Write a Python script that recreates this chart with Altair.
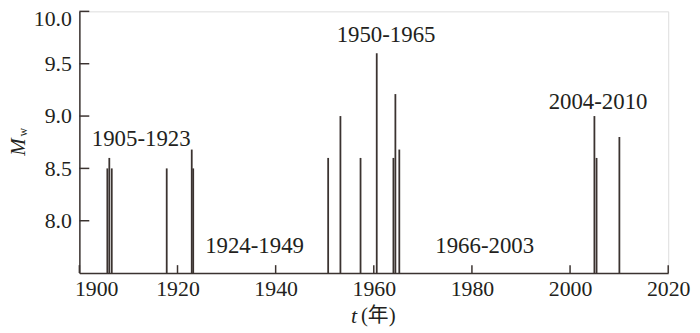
import altair as alt
import pandas as pd

# Earthquake events: year (decimal) and magnitude Mw
years = [1905.7, 1906.1, 1906.6, 1917.8, 1922.9, 1923.2,
         1950.7, 1953.2, 1957.3, 1960.6, 1964.0, 1964.4, 1965.2,
         2004.96, 2005.4, 2010.05]
mags = [8.5, 8.6, 8.5, 8.5, 8.68, 8.5,
        8.6, 9.0, 8.6, 9.6, 8.6, 9.21, 8.68,
        9.0, 8.6, 8.8]

# Period annotations
period_text = ["1905-1923", "1924-1949", "1950-1965", "1966-2003", "2004-2010"]
period_x = [1912.6, 1935.7, 1962.5, 1982.6, 2005.7]
period_y = [8.712, 7.695, 9.706, 7.695, 9.067]

x_ticks = [1900, 1920, 1940, 1960, 1980, 2000, 2020]
y_ticks = [8.0, 8.5, 9.0, 9.5, 10.0]

BASE = 7.5
W, H = 594, 264
INK = "#3b3330"
TXT = "#231f20"
FONT = "'Liberation Serif', 'Times New Roman', serif"

ev = pd.DataFrame({"year": years, "mag": mags, "base": [BASE] * len(years)})
per = pd.DataFrame({"label": period_text, "x": period_x, "y": period_y})
xt = pd.DataFrame({"v": x_ticks})
yt = pd.DataFrame({"v": y_ticks})

xscale = alt.Scale(domain=[1900, 2020], nice=False, zero=False)
yscale = alt.Scale(domain=[BASE, 10.0], nice=False, zero=False)

xaxis = alt.Axis(values=x_ticks, format="d", title=None, ticks=False, grid=False,
                 domainColor=INK, domainWidth=1.5, labelFont=FONT, labelFontSize=22,
                 labelColor=TXT, labelPadding=6, labelFlush=False,
                 labelOffset={"condition": {"test": "datum.value == 1900", "value": 17}, "value": 0})
yaxis = alt.Axis(values=y_ticks, format=".1f", title=None, ticks=False, grid=False,
                 domainColor=INK, domainWidth=1.5, labelFont=FONT, labelFontSize=22,
                 labelColor=TXT, labelPadding=8, labelFlush=False,
                 labelOffset={"condition": {"test": "datum.value == 10", "value": 7}, "value": 0})

bars = alt.Chart(ev).mark_rule(color=INK, strokeWidth=1.8).encode(
    x=alt.X("year:Q", scale=xscale, axis=xaxis),
    y=alt.Y("base:Q", scale=yscale, axis=yaxis),
    y2="mag:Q",
)

xtick_marks = alt.Chart(xt).mark_rule(color=INK, strokeWidth=1.5).encode(
    x=alt.X("v:Q", scale=xscale),
    y=alt.value(H),
    y2=alt.value(H - 8),
)
ytick_marks = alt.Chart(yt).mark_rule(color=INK, strokeWidth=1.5).encode(
    y=alt.Y("v:Q", scale=yscale),
    x=alt.value(0),
    x2=alt.value(10),
)

labels = alt.Chart(per).mark_text(font=FONT, fontSize=23, color=TXT,
                                  align="center", baseline="alphabetic").encode(
    x=alt.X("x:Q", scale=xscale),
    y=alt.Y("y:Q", scale=yscale),
    text="label:N",
)

# Axis titles
t_italic = alt.Chart(pd.DataFrame({"t": ["t"]})).mark_text(
    font=FONT, fontSize=22, fontStyle="italic", color=TXT,
    align="right", baseline="middle").encode(
    x=alt.value(280), y=alt.value(307), text="t:N")
t_year = alt.Chart(pd.DataFrame({"t": ["(年)"]})).mark_text(
    font="'Liberation Serif', 'Times New Roman', 'Noto Sans CJK SC', serif", fontSize=21, color=TXT,
    align="left", baseline="middle").encode(
    x=alt.value(284), y=alt.value(307), text="t:N")
m_it = alt.Chart(pd.DataFrame({"t": ["M"]})).mark_text(
    font=FONT, fontSize=21, fontStyle="italic", color=TXT, angle=270,
    align="center", baseline="middle").encode(
    x=alt.value(-61), y=alt.value(137), text="t:N")
m_sub = alt.Chart(pd.DataFrame({"t": ["w"]})).mark_text(
    font=FONT, fontSize=12, color=TXT, angle=270,
    align="center", baseline="middle").encode(
    x=alt.value(-57), y=alt.value(122), text="t:N")

chart = alt.layer(bars, xtick_marks, ytick_marks, labels, t_italic, t_year, m_it, m_sub).properties(
    width=W, height=H,
    autosize=alt.AutoSizeParams(type="none"),
    padding={"left": 72, "top": 2, "right": 24, "bottom": 55},
).configure_view(stroke=None).configure(background="white")

chart.save("out.html", embed_options={"renderer": "svg", "actions": False})
